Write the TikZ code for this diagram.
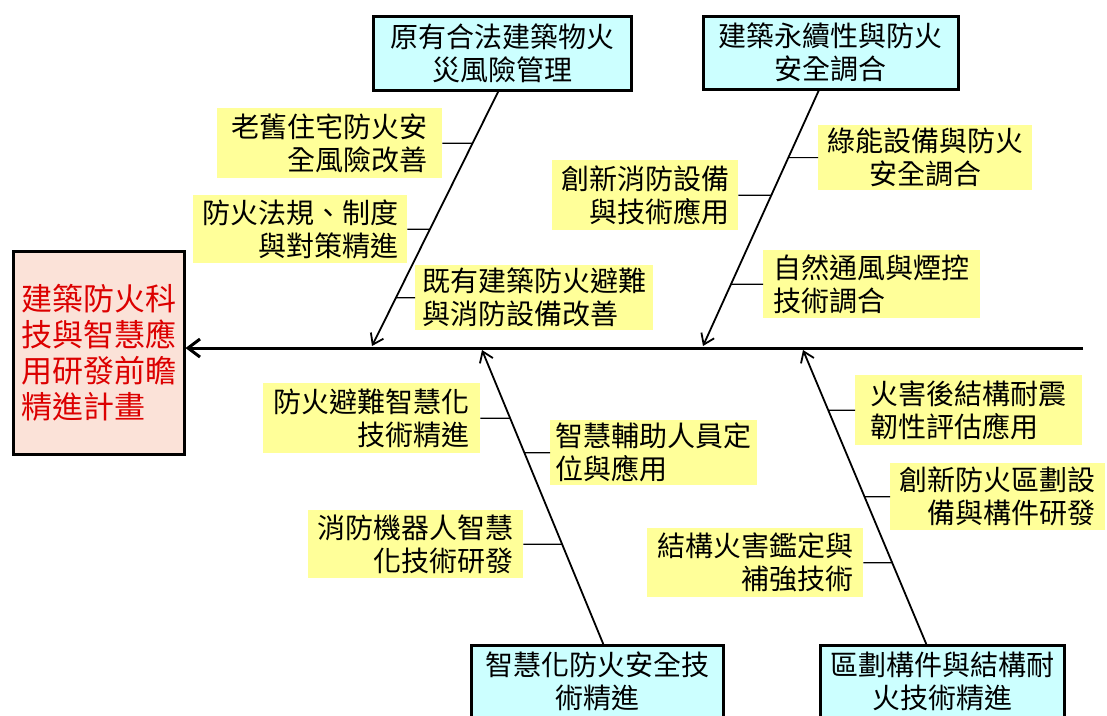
\documentclass[tikz,border=0pt]{standalone}
\usepackage{fontspec}
\setmainfont{Noto Sans CJK TC}
\usetikzlibrary{arrows.meta}
\newcommand\labelfont{\fontsize{28}{33}\selectfont}
\newcommand\headfont{\fontsize{31}{36}\selectfont}
\definecolor{labelyellow}{RGB}{255,255,153}
\definecolor{causecyan}{RGB}{204,255,255}
\definecolor{headpink}{RGB}{251,226,216}
\definecolor{headred}{RGB}{220,0,0}
\tikzset{headbox/.style={rectangle,draw=black,line width=2.5pt,fill=headpink,text=headred,font=\headfont,align=left,anchor=north west},
         causebox/.style={rectangle,draw=black,line width=2.5pt,fill=causecyan,font=\labelfont,align=center,anchor=north west},
         itembox/.style={rectangle,fill=labelyellow,font=\labelfont,anchor=north west,inner sep=3pt},
         spine/.style={line width=3pt,-{Straight Barb[length=12pt,width=18pt]}},
         bone/.style={line width=1.8pt,-{Straight Barb[length=10pt,width=14pt]}},
         twig/.style={line width=1.1pt}}
\begin{document}
\begin{tikzpicture}[x=1pt,y=-1pt]
                \useasboundingbox[fill=white] (0,0) rectangle (1107,715);
                % head of the fish
                \node[headbox, minimum width=171, minimum height=203] (head) at (12,250) {建築防火科\\技與智慧應\\用研發前瞻\\精進計畫};
                \coordinate (spineEnd) at (1083,348);
                \draw[spine] (spineEnd) -- (head.east |- spineEnd);

                % main causes
                \node[causebox, minimum width=258, minimum height=74] (fireRisk) at (372,15) {原有合法建築物火\\災風險管理};
                \node[causebox, minimum width=255, minimum height=73] (greenSafety) at (702,15) {建築永續性與防火\\安全調合};
                \node[causebox, minimum width=252, inner ysep=7pt, text depth=30pt] (smartTech) at (470,644) {智慧化防火安全技\\術精進};
                \node[causebox, minimum width=244, inner ysep=7pt, text depth=30pt] (structFire) at (819,644) {區劃構件與結構耐\\火技術精進};

                \coordinate (rootA) at ([xshift=-4]fireRisk.south);
                \coordinate (rootB) at ([xshift=-12]greenSafety.south);
                \coordinate (rootC) at ([xshift=6]smartTech.north);
                \coordinate (rootD) at ([xshift=-16]structFire.north);
                \coordinate (tipA) at (372,346);
                \coordinate (tipB) at (703,346);
                \coordinate (tipC) at (482,350);
                \coordinate (tipD) at (803,350);
                \draw[bone] (rootA) -- (tipA);
                \draw[bone] (rootB) -- (tipB);
                \draw[bone] (rootC) -- (tipC);
                \draw[bone] (rootD) -- (tipD);

                % sub causes
                \node[itembox, minimum width=225, minimum height=70, align=right] (oldHouse) at (217,108) {老舊住宅防火安\\全風險改善};
                \node[itembox, minimum width=214, minimum height=68, align=right] (fireCode) at (193,195) {防火法規、制度\\與對策精進};
                \node[itembox, minimum width=238, minimum height=65, align=left] (existBldg) at (415,265) {既有建築防火避難\\與消防設備改善};
                \draw[twig] (oldHouse.east) -- (intersection of rootA--tipA and oldHouse.east--oldHouse.west);
                \draw[twig] (fireCode.east) -- (intersection of rootA--tipA and fireCode.east--fireCode.west);
                \draw[twig] (existBldg.west) -- (intersection of rootA--tipA and existBldg.east--existBldg.west);

                \node[itembox, minimum width=214, minimum height=62, align=center] (greenEquip) at (818,125) {綠能設備與防火\\安全調合};
                \node[itembox, minimum width=186, minimum height=70, align=right] (newEquip) at (552,160) {創新消防設備\\與技術應用};
                \node[itembox, minimum width=217, minimum height=68, align=left] (natVent) at (763,250) {自然通風與煙控\\技術調合};
                \draw[twig] (greenEquip.west) -- (intersection of rootB--tipB and greenEquip.east--greenEquip.west);
                \draw[twig] (newEquip.east) -- (intersection of rootB--tipB and newEquip.east--newEquip.west);
                \draw[twig] (natVent.west) -- (intersection of rootB--tipB and natVent.east--natVent.west);

                \node[itembox, minimum width=217, minimum height=70, align=right] (smartEvac) at (263,383) {防火避難智慧化\\技術精進};
                \node[itembox, minimum width=207, minimum height=62, align=left] (smartLocate) at (550,420) {智慧輔助人員定\\位與應用};
                \node[itembox, minimum width=215, minimum height=68, align=right] (fireRobot) at (308,510) {消防機器人智慧\\化技術研發};
                \draw[twig] (smartEvac.east) -- (intersection of rootC--tipC and smartEvac.east--smartEvac.west);
                \draw[twig] (smartLocate.west) -- (intersection of rootC--tipC and smartLocate.east--smartLocate.west);
                \draw[twig] (fireRobot.east) -- (intersection of rootC--tipC and fireRobot.east--fireRobot.west);

                \node[itembox, minimum width=227, minimum height=70, align=left] (postFire) at (855,375) {火害後結構耐震\\韌性評估應用};
                \node[itembox, minimum width=215, minimum height=67, align=right] (newCompart) at (890,463) {創新防火區劃設\\備與構件研發};
                \node[itembox, minimum width=216, minimum height=69, align=right] (structRepair) at (647,528) {結構火害鑑定與\\補強技術};
                \draw[twig] (postFire.west) -- (intersection of rootD--tipD and postFire.east--postFire.west);
                \draw[twig] (newCompart.west) -- (intersection of rootD--tipD and newCompart.east--newCompart.west);
                \draw[twig] (structRepair.east) -- (intersection of rootD--tipD and structRepair.east--structRepair.west);
            \end{tikzpicture}
\end{document}
